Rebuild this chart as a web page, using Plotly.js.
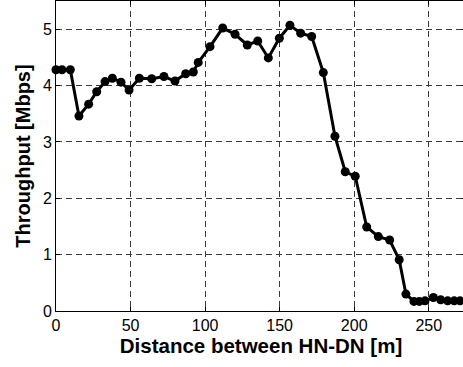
<!DOCTYPE html>
<html>
<head>
<meta charset="utf-8">
<script src="https://cdn.plot.ly/plotly-3.0.1.min.js"></script>
<style>
  html, body { margin: 0; padding: 0; background: #fff; overflow: hidden; }
  #chart { width: 466px; height: 367px; }
</style>
</head>
<body>
<div id="chart"></div>
<script>
// Measured distance between HN and DN (m)
const distance = [
  0, 4.0, 9.6, 15.4, 21.9, 27.3, 32.9, 37.8, 43.6, 49.0,
  55.9, 64.2, 72.4, 79.8, 87.0, 92.1, 95.4, 103.3, 111.8, 120.1,
  128.3, 135.3, 142.4, 149.8, 156.9, 164.1, 171.5, 179.3, 187.1, 194.0,
  200.7, 208.4, 216.2, 223.8, 230.2, 234.7, 240.1, 243.7, 247.5, 253.1,
  258.0, 262.7, 267.1, 271.0
];
// Throughput at each distance (Mbps)
const throughput = [
  4.28, 4.28, 4.28, 3.46, 3.67, 3.89, 4.07, 4.13, 4.06, 3.92,
  4.13, 4.12, 4.16, 4.08, 4.21, 4.24, 4.41, 4.69, 5.02, 4.91,
  4.72, 4.79, 4.49, 4.84, 5.07, 4.93, 4.87, 4.23, 3.10, 2.47,
  2.39, 1.49, 1.32, 1.26, 0.91, 0.30, 0.17, 0.17, 0.18, 0.24,
  0.20, 0.18, 0.18, 0.18
];
const xTicks = [0, 50, 100, 150, 200, 250];
const yTicks = [0, 1, 2, 3, 4, 5];

const FONT = 'Liberation Sans, Arial, Helvetica, sans-serif';

const axisCommon = {
  showline: true,
  linecolor: '#000',
  linewidth: 1,
  mirror: 'ticks',
  ticks: 'inside',
  ticklen: 4,
  tickcolor: '#000',
  showgrid: true,
  gridcolor: '#3a3a3a',
  gridwidth: 1,
  griddash: '6px,4px',
  zeroline: false,
  automargin: false,
  tickfont: { family: FONT, size: 16, color: '#000' }
};

const trace = {
  x: distance,
  y: throughput,
  type: 'scatter',
  mode: 'lines+markers',
  line: { color: '#000', width: 3 },
  marker: { color: '#000', size: 9, symbol: 'circle' },
  cliponaxis: false,
  hoverinfo: 'skip'
};

const layout = {
  width: 466,
  height: 367,
  margin: { l: 56, r: 0, t: 1, b: 56 },
  paper_bgcolor: '#fff',
  plot_bgcolor: '#fff',
  showlegend: false,
  xaxis: Object.assign({}, axisCommon, {
    range: [0, 275],
    tickvals: xTicks,
    ticktext: xTicks.map(String),
    title: {
      text: 'Distance between HN-DN [m]',
      font: { family: FONT, size: 20.5, color: '#000', weight: 'bold' },
      standoff: 2
    }
  }),
  yaxis: Object.assign({}, axisCommon, {
    range: [0, 5.5],
    tickvals: yTicks,
    ticktext: yTicks.map(String),
    title: {
      text: 'Throughput [Mbps]',
      font: { family: FONT, size: 20, color: '#000', weight: 'bold' },
      standoff: 6
    }
  })
};

Plotly.newPlot('chart', [trace], layout, { staticPlot: true, displayModeBar: false });
</script>
</body>
</html>
